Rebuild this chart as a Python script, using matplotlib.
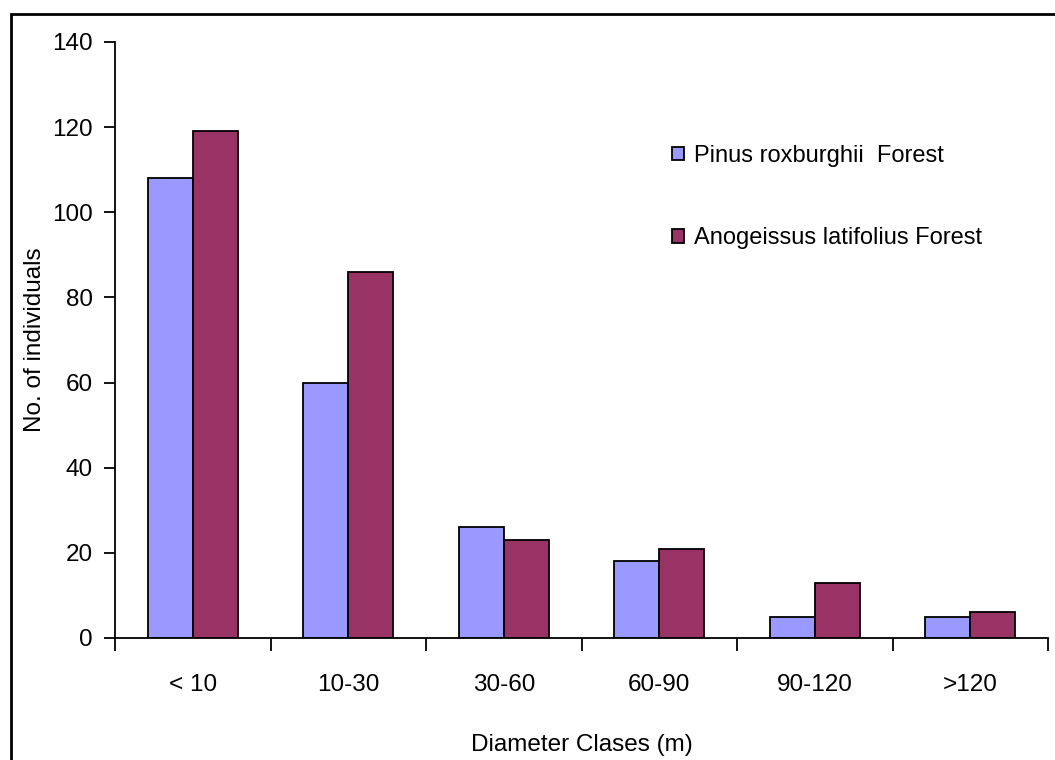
import numpy as np
import matplotlib
matplotlib.use("Agg")
from matplotlib import pyplot as plt
from matplotlib.patches import Rectangle

# data
classes = ['< 10', '10-30', '30-60', '60-90', '90-120', '>120']
pinus = [108, 60, 26, 18, 5, 5]
anogeissus = [119, 86, 23, 21, 13, 6]
series_names = ['Pinus roxburghii  Forest', 'Anogeissus latifolius Forest']
colors = ['#9999ff', '#993366']

plt.rcParams['font.family'] = ['Liberation Sans', 'DejaVu Sans']
fs = 17.5

fig = plt.figure(figsize=(10.55, 7.6), dpi=100)
W, H = 1055, 760
ax = fig.add_axes([115 / W, 1 - 638 / H, (1048 - 115) / W, (638 - 42) / H])

x = np.arange(len(classes))
bw = 0.29
ax.bar(x - bw / 2, pinus, bw, color=colors[0], edgecolor='black', linewidth=1.3, label=series_names[0])
ax.bar(x + bw / 2, anogeissus, bw, color=colors[1], edgecolor='black', linewidth=1.3, label=series_names[1])

ax.set_xlim(-0.5, len(classes) - 0.5)
ax.set_ylim(0, 140)
ax.set_yticks(range(0, 141, 20))
ax.set_xticks(x)
ax.set_xticklabels(classes)
ax.set_xticks(np.arange(-0.5, len(classes)), minor=True)
ax.tick_params(axis='x', which='major', length=0, pad=26, labelsize=fs)
ax.tick_params(axis='x', which='minor', length=9, width=1.3, direction='out')
ax.tick_params(axis='y', length=8, width=1.3, direction='out', pad=8, labelsize=fs)

for s in ['top', 'right']:
    ax.spines[s].set_visible(False)
for s in ['left', 'bottom']:
    ax.spines[s].set_linewidth(1.3)

ax.set_xlabel('Diameter Clases (m)', fontsize=fs, labelpad=27)
ax.set_ylabel('No. of individuals', fontsize=fs, labelpad=4)

ax.legend(loc='upper left', bbox_to_anchor=(672 / W, 1 - 145 / H), bbox_transform=fig.transFigure,
          frameon=False, fontsize=17, handlelength=0.5, handleheight=0.5, handletextpad=0.45,
          labelspacing=2.55, borderpad=0, borderaxespad=0)

# outer chart border
fig.add_artist(Rectangle((11 / W, -0.01), 1.0, 1 - 14 / H + 0.01, transform=fig.transFigure,
                         fill=False, edgecolor='black', linewidth=2))

fig.savefig('out.png', dpi=100)
